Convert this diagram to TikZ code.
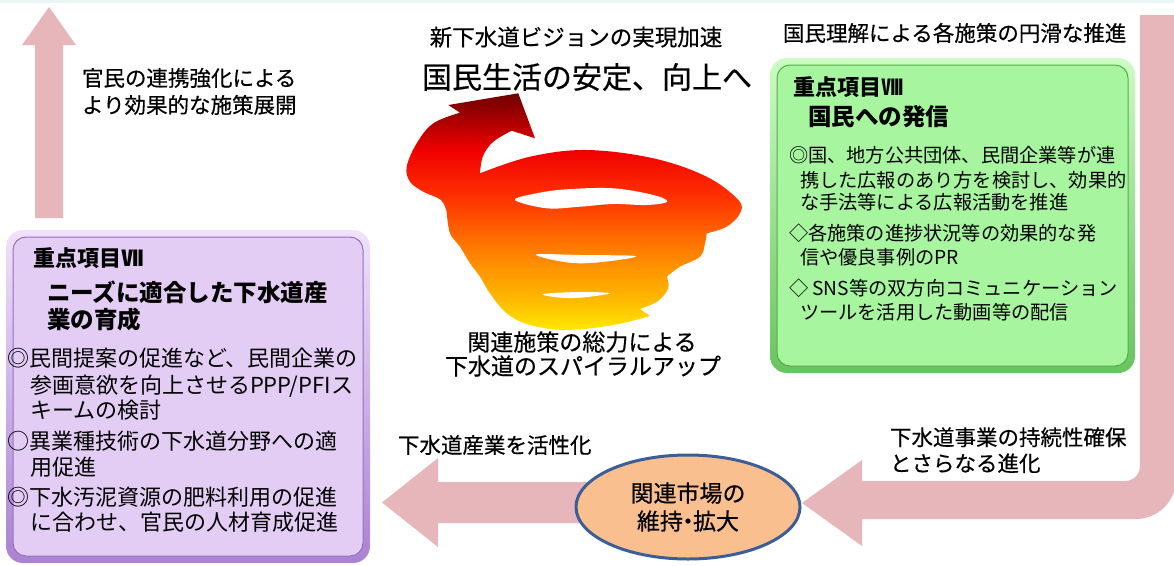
\documentclass[tikz,border=0pt]{standalone}
\usepackage{fontspec}
\setmainfont{Noto Sans CJK JP}
\newfontfamily\labelfont[FakeBold=0.45]{Noto Sans CJK JP}
\usetikzlibrary{calc,shapes.geometric}

% palette
\definecolor{arrowpink}{RGB}{230,182,186}
\definecolor{topstrip}{RGB}{234,245,245}
\definecolor{lavfill}{RGB}{227,205,244}
\definecolor{lavrimtop}{RGB}{240,226,252}
\definecolor{lavrimbot}{RGB}{170,130,210}
\definecolor{lavline}{RGB}{150,112,190}
\definecolor{grnfill}{RGB}{168,245,160}
\definecolor{grnrimtop}{RGB}{205,252,196}
\definecolor{grnrimbot}{RGB}{104,196,94}
\definecolor{grnline}{RGB}{84,172,74}
\definecolor{mktfill}{RGB}{249,191,143}
\definecolor{mktline}{RGB}{59,94,150}
\definecolor{fireD}{RGB}{110,0,0}
\definecolor{fireR}{RGB}{240,0,0}
\definecolor{fireRO}{RGB}{255,50,0}
\definecolor{fireO}{RGB}{255,125,0}
\definecolor{fireG}{RGB}{255,188,0}
\definecolor{fireY}{RGB}{255,232,0}

% vertical fire gradient for the spiral (path box = 25bp..75bp)
\pgfdeclareverticalshading{spiralfire}{100bp}{%
  color(0bp)=(fireY); color(25bp)=(fireY); color(31bp)=(fireG);
  color(42bp)=(fireO); color(53bp)=(fireRO); color(63bp)=(fireR);
  color(75bp)=(fireD); color(100bp)=(fireD)}

\begin{document}
\begin{tikzpicture}[x=1pt,y=-1pt,
  every node/.style={inner sep=0pt, outer sep=0pt},
  lbl/.style={anchor=base west, font=\labelfont\fontsize{21.5}{24}\selectfont},
  lblc/.style={anchor=base, font=\labelfont\fontsize{23}{26}\selectfont},
  ttl/.style={anchor=base west, font=\fontsize{22}{26}\selectfont\bfseries},
  sub/.style={anchor=base west, font=\fontsize{23.5}{27}\selectfont\bfseries},
  bodyL/.style={anchor=base west, font=\fontsize{22}{25}\selectfont},
  bodyR/.style={anchor=base west, font=\fontsize{19.2}{23}\selectfont},
  bigarrow/.style={fill=arrowpink},
  rimbox/.style={rectangle, rounded corners=17pt},
  innerbox/.style={rectangle, rounded corners=13pt, line width=1pt}]

\useasboundingbox (0,0) rectangle (1174,565);
\fill[topstrip] (0,0) rectangle (1174,3);

% ---------- big pink arrows ----------
% upward arrow above the left box
\fill[bigarrow] (35,218) -- (35,45) -- (22,45) -- (49,7) -- (76,45)
  -- (63,45) -- (63,218) -- cycle;
% right loop arrow coming down and turning left toward the market
\fill[bigarrow] (1140,15) -- (1176,15) -- (1176,479)
  .. controls (1176,501.1) and (1158.1,519) .. (1136,519)
  -- (862,519) -- (862,546) -- (802,503) -- (862,460) -- (862,481)
  -- (1125,481) .. controls (1133.3,481) and (1140,474.3) .. (1140,466)
  -- cycle;
% left arrow from the market to the industry box
\fill[bigarrow] (640,482) -- (438,482) -- (438,458) -- (382,502.5)
  -- (438,547) -- (438,523) -- (640,523) -- cycle;

% ---------- market ellipse ----------
\node[ellipse, draw=mktline, line width=3pt, fill=mktfill,
  minimum width=224pt, minimum height=104pt, align=center,
  font=\labelfont\fontsize{23}{28}\selectfont] (mkt) at (688,507)
  {関連市場の\\維持\kern-.28em・\kern-.28em拡大};

% ---------- left box (VII) ----------
\node[rimbox, top color=lavrimtop, bottom color=lavrimbot,
  minimum width=364pt, minimum height=333pt] (boxL) at (188,396.5) {};
\node[innerbox, fill=lavfill, draw=lavline,
  minimum width=350pt, minimum height=319pt] (boxLin) at (188,396.5) {};
\node[ttl] (tL1) at (33,266.4) {重点項目Ⅶ};
\node[sub] (tL2) at (47,301) {ニーズに適合した下水道産};
\node[sub] (tL3) at (47,328) {業の育成};
\node[bodyL] (bL1) at (7,366.4) {◎民間提案の促進など、民間企業の};
\node[bodyL] (bL2) at (30,393.4) {参画意欲を向上させるPPP/PFIス};
\node[bodyL] (bL3) at (30,418.4) {キームの検討};
\node[bodyL] (bL4) at (7,449.4) {○異業種技術の下水道分野への適};
\node[bodyL] (bL5) at (30,475.4) {用促進};
\node[bodyL] (bL6) at (7,505.4) {◎下水汚泥資源の肥料利用の促進};
\node[bodyL] (bL7) at (30,530.4) {に合わせ、官民の人材育成促進};

% ---------- right box (VIII) ----------
\node[rimbox, top color=grnrimtop, bottom color=grnrimbot,
  minimum width=365pt, minimum height=315pt] (boxR) at (952.5,215.5) {};
\node[innerbox, fill=grnfill, draw=grnline,
  minimum width=351pt, minimum height=301pt] (boxRin) at (952.5,215.5) {};
\node[ttl] (tR1) at (793,95.4) {重点項目Ⅷ};
\node[sub] (tR2) at (808,125.7) {国民への発信};
\node[bodyR] (bR1) at (789,162.6) {◎国、地方公共団体、民間企業等が連};
\node[bodyR] (bR2) at (800,187.6) {携した広報のあり方を検討し、効果的};
\node[bodyR] (bR3) at (800,209.6) {な手法等による広報活動を推進};
\node[bodyR] (bR4) at (789,240.6) {◇各施策の進捗状況等の効果的な発};
\node[bodyR] (bR5) at (800,264.6) {信や優良事例のPR};
\node[bodyR] (bR6) at (789,295.6) {◇ SNS等の双方向コミュニケーション};
\node[bodyR] (bR7) at (800,319.6) {ツールを活用した動画等の配信};

% ---------- spiral ----------
\shade[shading=spiralfire]
  (518.3,93.3) -- (535,138.3) -- (511.7,130.7)
  -- plot[smooth, tension=0.6] coordinates {(511.7,130.7) (493.3,141.7) (483,156) (480,173.3)}
  -- plot[smooth, tension=0.6] coordinates {(480,173.3) (530,156.7) (586.7,150) (653.3,158.3)
       (706.7,176.7) (738.3,200) (740,213.3) (726.7,226.7) (706.7,233.3)}
  -- plot[smooth, tension=0.6] coordinates {(706.7,233.3) (705,243.3) (700,256.7) (680,266.7) (666.7,276.7)}
  -- plot[smooth, tension=0.6] coordinates {(666.7,276.7) (668.3,288) (658,301) (640,309)}
  -- (650,316)
  -- plot[smooth, tension=0.6] coordinates {(650,316) (613.3,325) (566.7,330) (530,325) (506.7,313.3)
       (490,293.3) (480,276.7) (470,263.3) (460,246.7) (450,233.3) (446.7,212)}
  -- plot[smooth, tension=0.6] coordinates {(446.7,212) (441,200) (423.3,191.7) (410,181.7)
       (406.7,166.7) (416.7,143.3) (433.3,123.3) (460,112.7)}
  -- (448.3,105) -- cycle;
% openings between the turns
\fill[white] plot[smooth cycle, tension=0.6] coordinates {(515,200) (536.7,193.3) (566.7,189.3)
  (613.3,188.3) (653.3,195) (667.3,201.7) (646.7,205) (613.3,204) (580,206.7) (546.7,208.3)};
\fill[white] plot[smooth cycle, tension=0.6] coordinates {(536.7,254.3) (580,255) (635,256)
  (613.3,260.7) (580,263.3) (553.3,260)};
\fill[white] plot[smooth cycle, tension=0.6] coordinates {(543.3,294) (580,292) (610,293.3)
  (580,297.7) (556.7,297.3)};

% ---------- free labels ----------
\node[anchor=base, font=\labelfont\fontsize{22.5}{26}\selectfont] (vision) at (576,45.6) {新下水道ビジョンの実現加速};
\node[anchor=base, font=\labelfont\fontsize{30}{34}\selectfont] (goal) at (587,88.4) {国民生活の安定、向上へ};
\node[lbl] (pr) at (783,41.2) {国民理解による各施策の円滑な推進};
\node[lbl] (coop1) at (82,86.1) {官民の連携強化による};
\node[lbl] (coop2) at (82,113.1) {より効果的な施策展開};
\node[lblc] (spiral1) at (582,350.7) {関連施策の総力による};
\node[lblc] (spiral2) at (583,374.7) {下水道のスパイラルアップ};
\node[lbl] (act) at (398,453.2) {下水道産業を活性化};
\node[lbl] (sus1) at (890,445.4) {下水道事業の持続性確保};
\node[lbl] (sus2) at (890,471.4) {とさらなる進化};
\end{tikzpicture}
\end{document}
